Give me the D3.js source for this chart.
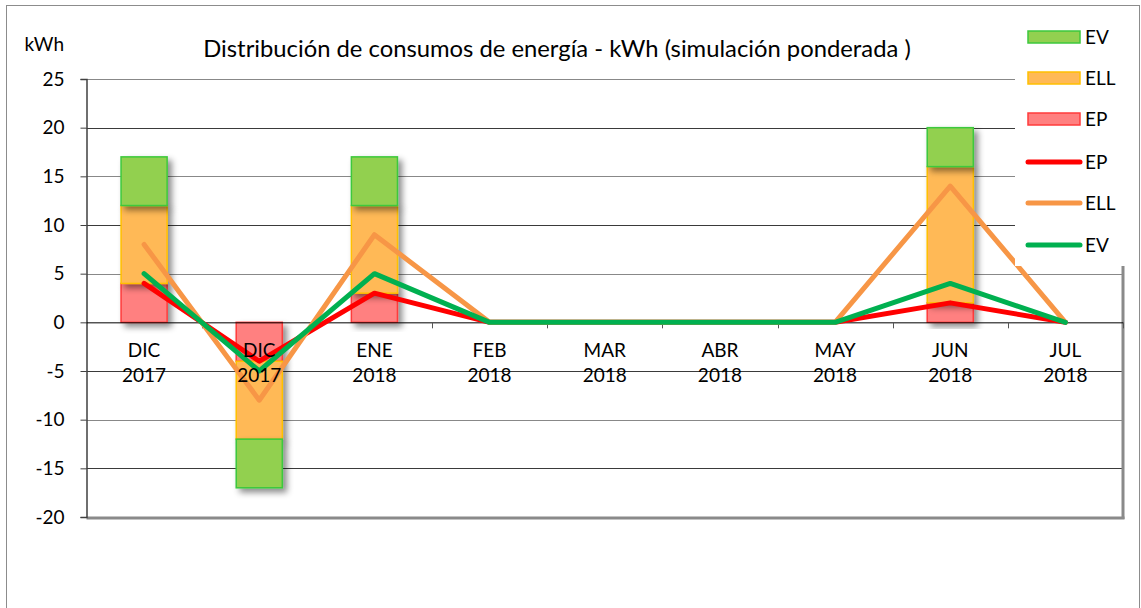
<!DOCTYPE html>
<html>
<head>
<meta charset="utf-8">
<script src="https://cdn.jsdelivr.net/npm/d3@7"></script>
<style>
  html, body { margin: 0; padding: 0; background: #fff; }
  svg { display: block; font-family: Lato, "Open Sans", sans-serif; }
</style>
</head>
<body>
<svg id="chart" width="1141" height="608"></svg>
<script>
// Monthly categories (two-line labels)
const months = ["DIC", "DIC", "ENE", "FEB", "MAR", "ABR", "MAY", "JUN", "JUL"];
const years  = ["2017", "2017", "2018", "2018", "2018", "2018", "2018", "2018", "2018"];

// Energy per period, kWh
const EP  = [4, -4, 3, 0, 0, 0, 0, 2, 0];
const ELL = [8, -8, 9, 0, 0, 0, 0, 14, 0];
const EV  = [5, -5, 5, 0, 0, 0, 0, 4, 0];

const yTicks = [25, 20, 15, 10, 5, 0, -5, -10, -15, -20];

const titleText = "Distribución de consumos de energía - kWh (simulación ponderada )";
const unitText = "kWh";

const colors = {
  EP:  { fill: "#ff8080", stroke: "#ff3b3b", line: "#ff0000" },
  ELL: { fill: "#ffb957", stroke: "#ffc000", line: "#f79646" },
  EV:  { fill: "#92d050", stroke: "#3cc83c", line: "#00b050" }
};

const svg = d3.select("#chart");
const plot = { left: 86.5, right: 1123, top: 79, bottom: 517 };
const labelSize = 19;

// drop shadow for bars
const defs = svg.append("defs");
const f = defs.append("filter").attr("id", "shadow")
  .attr("x", "-30%").attr("y", "-30%").attr("width", "160%").attr("height", "160%");
f.append("feDropShadow").attr("dx", 4).attr("dy", 4).attr("stdDeviation", 3)
  .attr("flood-color", "#000").attr("flood-opacity", 0.45);

// outer frame
svg.append("rect").attr("x", 6.5).attr("y", 5.5).attr("width", 1133).attr("height", 640)
  .attr("fill", "#fff").attr("stroke", "#8c8c8c").attr("stroke-width", 1);

const idx = d3.range(months.length);
const x = d3.scaleBand().domain(idx).range([plot.left, plot.right])
  .paddingInner(0.6).paddingOuter(0.3);
const step = x.step();
const cx = i => x(i) + x.bandwidth() / 2;
const y = d3.scaleLinear().domain([-20, 25]).range([plot.bottom, plot.top]);

// gridlines
svg.append("g").selectAll("line").data(yTicks.filter(t => t !== 0)).join("line")
  .attr("x1", plot.left).attr("x2", plot.right)
  .attr("y1", d => Math.round(y(d)) + 0.5).attr("y2", d => Math.round(y(d)) + 0.5)
  .attr("stroke", (d, i) => i % 2 ? "#3a3a3a" : "#888").attr("stroke-width", 1);

// plot area border with shadow edge at bottom / right
svg.append("line").attr("x1", plot.left).attr("x2", plot.right + 1.5)
  .attr("y1", y(-20) + 1).attr("y2", y(-20) + 1).attr("stroke", "#8a8a8a").attr("stroke-width", 3);
svg.append("line").attr("x1", plot.right).attr("x2", plot.right)
  .attr("y1", plot.top).attr("y2", y(-20) + 2).attr("stroke", "#8a8a8a").attr("stroke-width", 3);

// y axis
const yAxis = svg.append("g").attr("transform", `translate(${plot.left},0)`)
  .call(d3.axisLeft(y).tickValues(yTicks).tickSize(6).tickPadding(16).tickFormat(d3.format("d")));
yAxis.select(".domain").attr("stroke", "#404040").attr("stroke-width", 1.5);
yAxis.selectAll(".tick line").attr("stroke", "#404040");
yAxis.selectAll("text").attr("font-size", labelSize).attr("fill", "#000")
  .attr("font-family", "Lato, sans-serif").text(d => d < 0 ? "-" + Math.abs(d) : d);

// stacked bars (diverging)
const seriesKeys = ["EP", "ELL", "EV"];
const rows = idx.map(i => ({ i, EP: EP[i], ELL: ELL[i], EV: EV[i] }));
const stacked = d3.stack().keys(seriesKeys).offset(d3.stackOffsetDiverging)(rows);

const barG = svg.append("g");
stacked.forEach(layer => {
  barG.append("g").selectAll("rect")
    .data(layer.filter(d => d[1] - d[0] !== 0))
    .join("rect")
    .attr("x", d => x(d.data.i))
    .attr("width", x.bandwidth())
    .attr("y", d => y(Math.max(d[0], d[1])))
    .attr("height", d => Math.abs(y(d[0]) - y(d[1])))
    .attr("fill", colors[layer.key].fill)
    .attr("stroke", colors[layer.key].stroke)
    .attr("stroke-width", 1.5)
    .attr("filter", "url(#shadow)");
});

// zero line and category ticks
svg.append("line").attr("x1", plot.left).attr("x2", plot.right)
  .attr("y1", y(0) + 0.5).attr("y2", y(0) + 0.5).attr("stroke", "#000").attr("stroke-width", 1);
svg.append("g").selectAll("line").data(d3.range(1, months.length + 1)).join("line")
  .attr("x1", i => Math.round(plot.left + i * step) + 0.5)
  .attr("x2", i => Math.round(plot.left + i * step) + 0.5)
  .attr("y1", y(0)).attr("y2", y(0) + 6)
  .attr("stroke", "#555").attr("stroke-width", 1);

// lines
const lineGen = d3.line().x((d, i) => cx(i)).y(d => y(d));
[["EP", EP], ["ELL", ELL], ["EV", EV]].forEach(([k, vals]) => {
  svg.append("path").datum(vals).attr("d", lineGen)
    .attr("fill", "none").attr("stroke", colors[k].line)
    .attr("stroke-width", 5).attr("stroke-linejoin", "round").attr("stroke-linecap", "round");
});

// category labels
const catG = svg.append("g").attr("font-size", labelSize).attr("text-anchor", "middle").attr("fill", "#000");
catG.selectAll("text.m").data(idx).join("text").attr("class", "m")
  .attr("x", i => cx(i)).attr("y", 357).text(i => months[i]);
catG.selectAll("text.yr").data(idx).join("text").attr("class", "yr")
  .attr("x", i => cx(i)).attr("y", 382).text(i => years[i]);

// unit label
svg.append("text").attr("x", 64).attr("y", 51).attr("text-anchor", "end")
  .attr("font-size", labelSize).text(unitText);

// title
const title = svg.append("text").attr("x", 557).attr("y", 57).attr("text-anchor", "middle")
  .attr("font-size", 21).attr("fill", "#000").text(titleText);
const tw = title.node().getComputedTextLength();
title.attr("font-size", 21 * 708 / tw);

// legend (sits over the top-right corner of the plot)
const leg = svg.append("g");
leg.append("rect").attr("x", 1015).attr("y", 14).attr("width", 124).attr("height", 252).attr("fill", "#fff");
const legItems = [
  { key: "EV", type: "bar", yc: 37 },
  { key: "ELL", type: "bar", yc: 78 },
  { key: "EP", type: "bar", yc: 119 },
  { key: "EP", type: "line", yc: 162 },
  { key: "ELL", type: "line", yc: 203 },
  { key: "EV", type: "line", yc: 245 }
];
legItems.forEach(it => {
  if (it.type === "bar") {
    leg.append("rect").attr("x", 1028).attr("y", it.yc - 6).attr("width", 52).attr("height", 12)
      .attr("fill", colors[it.key].fill).attr("stroke", colors[it.key].stroke).attr("stroke-width", 1.5);
  } else {
    leg.append("line").attr("x1", 1028).attr("x2", 1080).attr("y1", it.yc).attr("y2", it.yc)
      .attr("stroke", colors[it.key].line).attr("stroke-width", 5).attr("stroke-linecap", "round");
  }
  leg.append("text").attr("x", 1085).attr("y", it.yc + 7).attr("font-size", labelSize).text(it.key);
});
</script>
</body>
</html>
